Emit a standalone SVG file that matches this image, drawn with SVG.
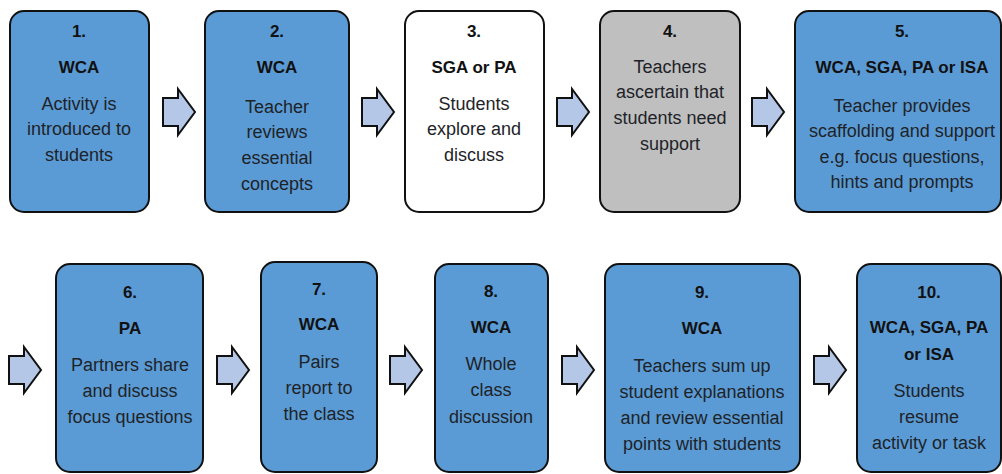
<svg xmlns="http://www.w3.org/2000/svg" width="1002" height="474" viewBox="0 0 1002 474">
<defs>
<style>
.box{stroke:#111;stroke-width:2}
.blue{fill:#5b9bd5}
.white{fill:#fff}
.gray{fill:#bfbfbf}
.arr{fill:#b4c7e7;stroke:#111;stroke-width:2;stroke-linejoin:miter}
text{font-family:"Liberation Sans",Arial,sans-serif;text-anchor:middle;fill:#1e2328}
.h{font-weight:bold;font-size:17px;fill:#111}
.b{font-size:18px}
</style>
<path id="a" d="M0,9 H15 V0 L32,23 L15,46 V37 H0 Z"/>
</defs>
<rect width="1002" height="474" fill="#fff"/>
<g id="connectors">
<use href="#a" class="arr" x="163" y="89"/>
<use href="#a" class="arr" x="362" y="89"/>
<use href="#a" class="arr" x="557" y="89"/>
<use href="#a" class="arr" x="752" y="89"/>
<use href="#a" class="arr" x="9" y="347"/>
<use href="#a" class="arr" x="217" y="347"/>
<use href="#a" class="arr" x="390" y="347"/>
<use href="#a" class="arr" x="562" y="347"/>
<use href="#a" class="arr" x="814" y="347"/>
</g>
<g id="n1">
<rect class="box blue" x="10" y="11" width="139" height="201" rx="14"/>
<text class="h" x="79" y="37">1.</text>
<text class="h" x="79" y="73">WCA</text>
<text class="b" x="79" y="110">Activity is</text>
<text class="b" x="79" y="135">introduced to</text>
<text class="b" x="79" y="161">students</text>
</g>
<g id="n2">
<rect class="box blue" x="205" y="11" width="144" height="201" rx="14"/>
<text class="h" x="277" y="37">2.</text>
<text class="h" x="277" y="73">WCA</text>
<text class="b" x="277" y="113">Teacher</text>
<text class="b" x="277" y="138">reviews</text>
<text class="b" x="277" y="164">essential</text>
<text class="b" x="277" y="190">concepts</text>
</g>
<g id="n3">
<rect class="box white" x="405" y="11" width="139" height="201" rx="14"/>
<text class="h" x="474" y="37">3.</text>
<text class="h" x="474" y="73">SGA or PA</text>
<text class="b" x="474" y="110">Students</text>
<text class="b" x="474" y="135">explore and</text>
<text class="b" x="474" y="161">discuss</text>
</g>
<g id="n4">
<rect class="box gray" x="600" y="11" width="140" height="201" rx="14"/>
<text class="h" x="670" y="37">4.</text>
<text class="b" x="670" y="73">Teachers</text>
<text class="b" x="670" y="98">ascertain that</text>
<text class="b" x="670" y="124">students need</text>
<text class="b" x="670" y="150">support</text>
</g>
<g id="n5">
<rect class="box blue" x="795" y="11" width="206" height="201" rx="14"/>
<text class="h" x="902" y="37">5.</text>
<text class="h" x="902" y="73">WCA, SGA, PA or ISA</text>
<text class="b" x="902" y="112">Teacher provides</text>
<text class="b" x="902" y="137">scaffolding and support</text>
<text class="b" x="902" y="163">e.g. focus questions,</text>
<text class="b" x="902" y="188">hints and prompts</text>
</g>
<g id="n6">
<rect class="box blue" x="56" y="264" width="147" height="208" rx="14"/>
<text class="h" x="130" y="298">6.</text>
<text class="h" x="130" y="334">PA</text>
<text class="b" x="130" y="371">Partners share</text>
<text class="b" x="130" y="397">and discuss</text>
<text class="b" x="130" y="423">focus questions</text>
</g>
<g id="n7">
<rect class="box blue" x="261" y="262" width="116" height="210" rx="14"/>
<text class="h" x="319" y="295">7.</text>
<text class="h" x="319" y="330">WCA</text>
<text class="b" x="319" y="368">Pairs</text>
<text class="b" x="319" y="394">report to</text>
<text class="b" x="319" y="420">the class</text>
</g>
<g id="n8">
<rect class="box blue" x="435" y="264" width="113" height="208" rx="14"/>
<text class="h" x="491" y="297">8.</text>
<text class="h" x="491" y="333">WCA</text>
<text class="b" x="491" y="370">Whole</text>
<text class="b" x="491" y="396">class</text>
<text class="b" x="491" y="423">discussion</text>
</g>
<g id="n9">
<rect class="box blue" x="605" y="264" width="195" height="208" rx="14"/>
<text class="h" x="702" y="298">9.</text>
<text class="h" x="702" y="334">WCA</text>
<text class="b" x="702" y="372">Teachers sum up</text>
<text class="b" x="702" y="398">student explanations</text>
<text class="b" x="702" y="424">and review essential</text>
<text class="b" x="702" y="450">points with students</text>
</g>
<g id="n10">
<rect class="box blue" x="857" y="264" width="144" height="208" rx="14"/>
<text class="h" x="929" y="298">10.</text>
<text class="h" x="929" y="333">WCA, SGA, PA</text>
<text class="h" x="929" y="360">or ISA</text>
<text class="b" x="929" y="397">Students</text>
<text class="b" x="929" y="423">resume</text>
<text class="b" x="929" y="449">activity or task</text>
</g>
</svg>
